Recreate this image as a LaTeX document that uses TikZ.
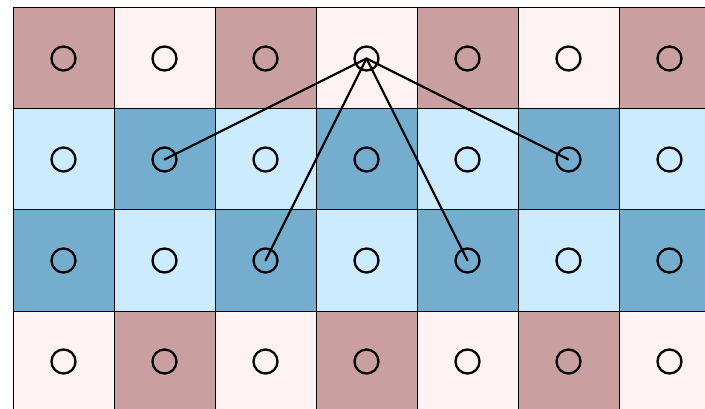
\documentclass[tikz,border=0pt]{standalone}
\begin{document}
\begin{tikzpicture}[x=1pt,y=-1pt,
  cell/.style={draw=black,line width=1pt,minimum size=101pt,inner sep=0pt,outer sep=0pt,anchor=north west},
  dot/.style={circle,draw=black,line width=2.3pt,minimum size=24pt,inner sep=0pt},
  link/.style={line width=2.2pt,line cap=round}]
\definecolor{rose}{HTML}{C9A09F}
\definecolor{pinkl}{HTML}{FFF2F2}
\definecolor{bluel}{HTML}{CCEBFF}
\definecolor{blued}{HTML}{75ADCE}
\useasboundingbox (0,0) rectangle (705,409);
\begin{scope}
\clip (0,0) rectangle (705,409);
\foreach \r/\ca/\cb in {0/rose/pinkl,1/bluel/blued,2/blued/bluel,3/pinkl/rose}{
  \foreach \c in {0,...,6}{
    \pgfmathtruncatemacro{\parity}{mod(\c,2)}
    \ifnum\parity=0 \def\col{\ca}\else\def\col{\cb}\fi
    \node[cell,fill=\col] (cell-\r-\c) at (13+101*\c,8+101*\r) {};
    \node[dot] (d-\r-\c) at (cell-\r-\c.center) {};
  }
}
\end{scope}
\draw[link] (d-0-3.center) -- (d-1-1.center);
\draw[link] (d-0-3.center) -- (d-2-2.center);
\draw[link] (d-0-3.center) -- (d-2-4.center);
\draw[link] (d-0-3.center) -- (d-1-5.center);
\end{tikzpicture}
\end{document}
